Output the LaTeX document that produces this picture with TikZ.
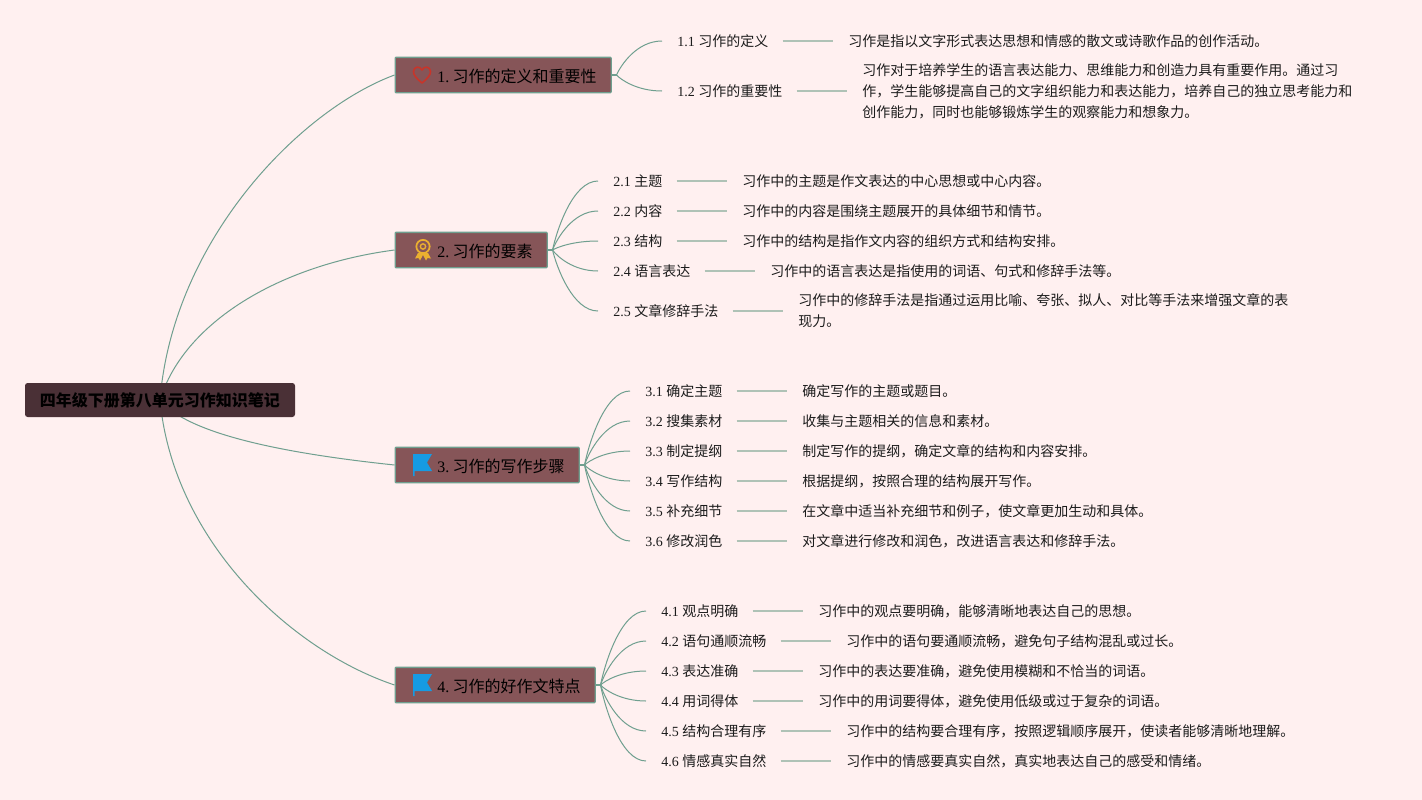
\documentclass[tikz,border=0pt]{standalone}
\usepackage{fontspec}
\setmainfont{Liberation Serif}
\newfontfamily\cjk{Noto Sans CJK SC}
\usetikzlibrary{backgrounds,calc}
\definecolor{bgc}{HTML}{FFF0F0}
\definecolor{linec}{HTML}{6F9F8F}
\definecolor{leafc}{HTML}{AFC2B6}
\definecolor{topicc}{HTML}{865558}
\definecolor{rootc}{HTML}{4A3036}
\definecolor{inkc}{HTML}{1C1C1C}
\definecolor{heartc}{HTML}{C8352A}
\definecolor{goldc}{HTML}{EBB030}
\definecolor{flagc}{HTML}{169BE3}
\tikzset{
  x=0.75pt,y=-0.75pt,
  link/.style={draw=linec,line width=0.75pt},
  leaflink/.style={draw=leafc,line width=1.1pt,yshift=1.2pt,shorten <=-0.75pt},
  rootbox/.style={fill=rootc,rounded corners=2pt,minimum width=202.5pt,minimum height=25.5pt,inner sep=0pt,font=\fontsize{12}{16}\selectfont\bfseries,text=black},
  topicbox/.style={fill=topicc,draw=linec,line width=1pt,rounded corners=0.6pt,minimum height=26.5pt,inner sep=0pt,anchor=west,text=black,font=\fontsize{12}{16}\selectfont},
  topictext/.style={anchor=west,inner sep=0pt,text=black,font=\fontsize{12}{16}\selectfont},
  lab/.style={anchor=west,inner ysep=0pt,inner xsep=11.25pt,text=inkc,font=\fontsize{10.5}{15.75}\selectfont},
  desc/.style={anchor=west,inner ysep=0pt,inner xsep=11.25pt,text=inkc,align=left,font=\fontsize{10.5}{15.75}\selectfont\cjk},
}
\newcommand{\leafpair}[6]{%
  \node[lab] (#1l) at (#2,#3) {#4};
  \node[desc] (#1d) at (#5,#3) {#6};
  \begin{pgfonlayer}{background}
    \draw[leaflink] (#1l.east) -- (#1d.west);
  \end{pgfonlayer}}
\newcommand{\zh}[1]{{\cjk #1}}
\newcommand{\topicnum}[1]{#1.\hspace{2.6pt}}
\begin{document}
\begin{tikzpicture}
\useasboundingbox (0,0) rectangle (1422,800);
\begin{scope}[on background layer]
\fill[bgc] (0,0) rectangle (1422,800);
\end{scope}
\node[rootbox] (root) at (160,400) {\raisebox{-0.75pt}{\zh{四年级下册第八单元习作知识笔记}}};
\coordinate (rc) at (160,400);
\node[topicbox,minimum width=162pt] (t1) at (394.5,75) {};
\node[topicbox,minimum width=114pt] (t2) at (394.5,250) {};
\node[topicbox,minimum width=138pt] (t3) at (394.5,465) {};
\node[topicbox,minimum width=150pt] (t4) at (394.5,685) {};
\node[topictext] (t1x) at (437,76) {\topicnum{1}\zh{习作的定义和重要性}};
\node[topictext] (t2x) at (437,251) {\topicnum{2}\zh{习作的要素}};
\node[topictext] (t3x) at (437,466) {\topicnum{3}\zh{习作的写作步骤}};
\node[topictext] (t4x) at (437,686) {\topicnum{4}\zh{习作的好作文特点}};
% icons
\draw[draw=heartc,line width=1.2pt,line join=round]
  (422,83) .. controls (416,78) and (413.5,75) .. (413.5,71.5)
  .. controls (413.5,66.5) and (420,65.5) .. (422,70)
  .. controls (424,65.5) and (430.5,66.5) .. (430.5,71.5)
  .. controls (430.5,75) and (428,78) .. (422,83) -- cycle;
\begin{scope}[shift={(423,250)}]
  \fill[goldc] (-5,3) -- (-8,8.5) -- (-4.5,8) -- (-3,10.5) -- (0,5) -- (3,10.5) -- (4.5,8) -- (8,8.5) -- (5,3) -- cycle;
  \draw[goldc,line width=1.3pt,fill=topicc] (0,-3.5) circle (5pt);
  \draw[goldc,line width=1pt] (0,-3.5) circle (2pt);
\end{scope}
\foreach \yy in {464,684}{
  \fill[flagc] (413,\yy-10) -- (432,\yy-10) -- (427,\yy-1.5) -- (432,\yy+7) -- (414.5,\yy+7) -- (414.5,\yy+12) -- (413,\yy+12) -- cycle;
}
% leaves
\leafpair{a}{662}{41}{1.1 \zh{习作的定义}}{833}{习作是指以文字形式表达思想和情感的散文或诗歌作品的创作活动。}
\leafpair{b}{662}{91}{1.2 \zh{习作的重要性}}{847}{习作对于培养学生的语言表达能力、思维能力和创造力具有重要作用。通过习\\作，学生能够提高自己的文字组织能力和表达能力，培养自己的独立思考能力和\\创作能力，同时也能够锻炼学生的观察能力和想象力。}
\leafpair{c}{598}{181}{2.1 \zh{主题}}{727}{习作中的主题是作文表达的中心思想或中心内容。}
\leafpair{d}{598}{211}{2.2 \zh{内容}}{727}{习作中的内容是围绕主题展开的具体细节和情节。}
\leafpair{e}{598}{241}{2.3 \zh{结构}}{727}{习作中的结构是指作文内容的组织方式和结构安排。}
\leafpair{f}{598}{271}{2.4 \zh{语言表达}}{755}{习作中的语言表达是指使用的词语、句式和修辞手法等。}
\leafpair{g}{598}{311}{2.5 \zh{文章修辞手法}}{783}{习作中的修辞手法是指通过运用比喻、夸张、拟人、对比等手法来增强文章的表\\现力。}
\leafpair{h}{630}{391}{3.1 \zh{确定主题}}{787}{确定写作的主题或题目。}
\leafpair{i}{630}{421}{3.2 \zh{搜集素材}}{787}{收集与主题相关的信息和素材。}
\leafpair{j}{630}{451}{3.3 \zh{制定提纲}}{787}{制定写作的提纲，确定文章的结构和内容安排。}
\leafpair{k}{630}{481}{3.4 \zh{写作结构}}{787}{根据提纲，按照合理的结构展开写作。}
\leafpair{l}{630}{511}{3.5 \zh{补充细节}}{787}{在文章中适当补充细节和例子，使文章更加生动和具体。}
\leafpair{m}{630}{541}{3.6 \zh{修改润色}}{787}{对文章进行修改和润色，改进语言表达和修辞手法。}
\leafpair{n}{646}{611}{4.1 \zh{观点明确}}{803}{习作中的观点要明确，能够清晰地表达自己的思想。}
\leafpair{o}{646}{641}{4.2 \zh{语句通顺流畅}}{831}{习作中的语句要通顺流畅，避免句子结构混乱或过长。}
\leafpair{p}{646}{671}{4.3 \zh{表达准确}}{803}{习作中的表达要准确，避免使用模糊和不恰当的词语。}
\leafpair{q}{646}{701}{4.4 \zh{用词得体}}{803}{习作中的用词要得体，避免使用低级或过于复杂的词语。}
\leafpair{r}{646}{731}{4.5 \zh{结构合理有序}}{831}{习作中的结构要合理有序，按照逻辑顺序展开，使读者能够清晰地理解。}
\leafpair{s}{646}{761}{4.6 \zh{情感真实自然}}{831}{习作中的情感要真实自然，真实地表达自己的感受和情绪。}
\begin{pgfonlayer}{background}
\draw[link] (rc) .. controls (173,240) and (300,110) .. (t1.west);
\draw[link] (rc) .. controls (184,322) and (280,265) .. (t2.west);
\draw[link] (rc) .. controls (190,437) and (300,455) .. (t3.west);
\draw[link] (rc) .. controls (173,540) and (290,650) .. (t4.west);
\foreach \tp/\lv in {t1/a,t1/b,t2/c,t2/d,t2/e,t2/f,t2/g,t3/h,t3/i,t3/j,t3/k,t3/l,t3/m,t4/n,t4/o,t4/p,t4/q,t4/r,t4/s}{
  \coordinate (st) at ([xshift=3.5pt]\tp.east);
  \coordinate (en) at (\lv l.west);
  \coordinate (cax) at ($(st)!.1!(en)$);
  \coordinate (cay) at ($(st)!.3!(en)$);
  \coordinate (cbx) at ($(en)!.55!(st)$);
  \draw[link] (\tp.east) -- (st) .. controls (cax |- cay) and (cbx |- en) .. (\lv l.west);
}
\draw[link,line width=1.5pt] (t2.east) -- +(3.5pt,0) (t3.east) -- +(3.5pt,0) (t4.east) -- +(3.5pt,0) (t1.east) -- +(3.5pt,0);
\end{pgfonlayer}
\end{tikzpicture}
\end{document}
